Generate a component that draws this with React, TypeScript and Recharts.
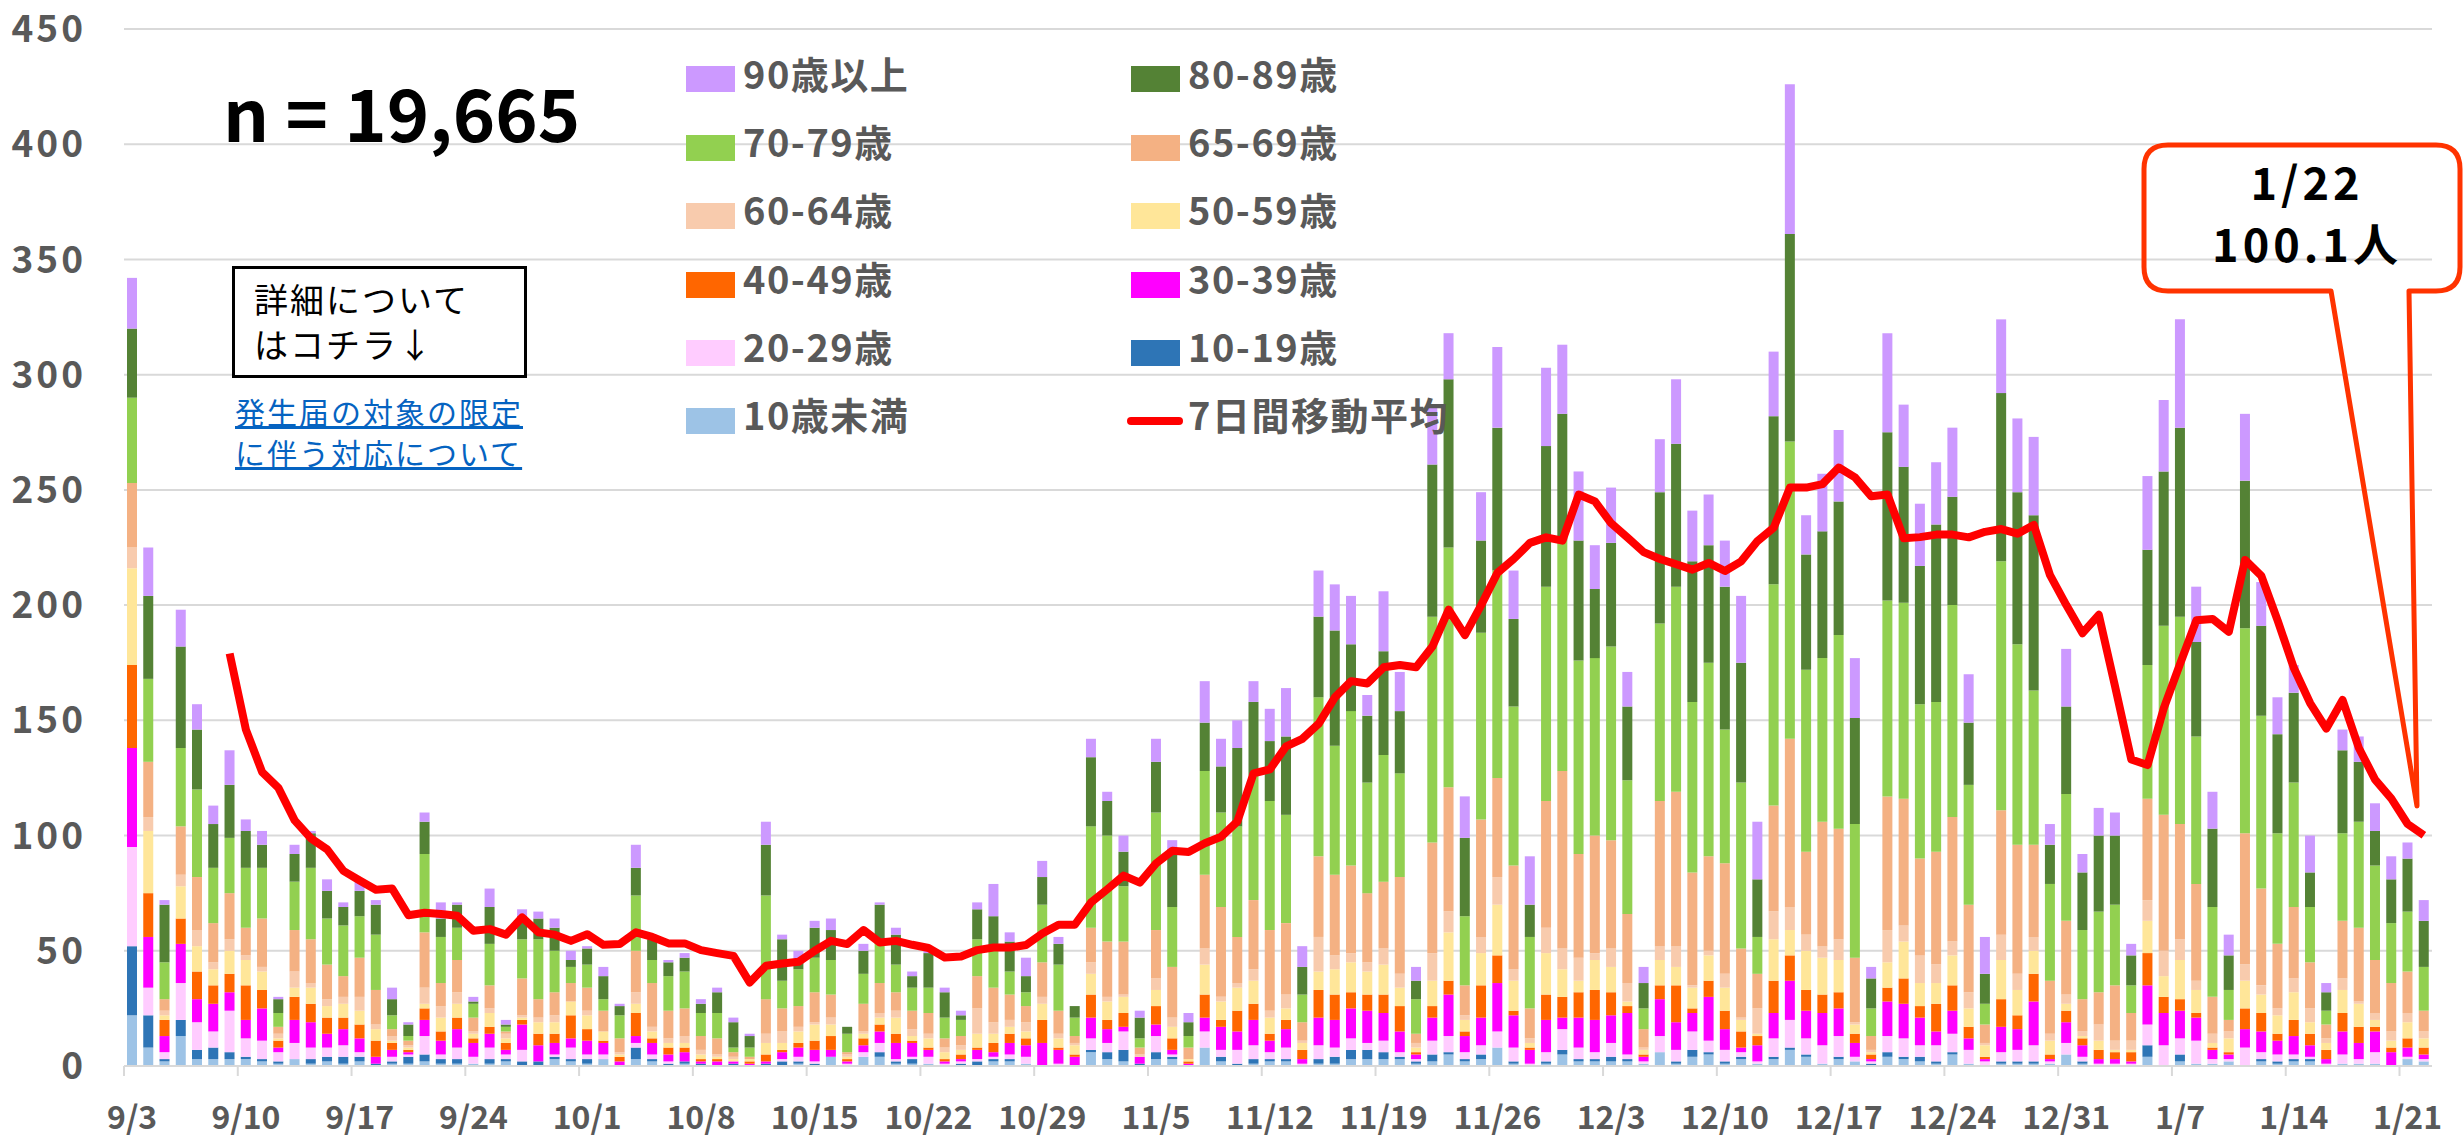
import React from 'react';
import { ComposedChart, Bar, Line, XAxis, YAxis, CartesianGrid } from 'recharts';

const FONT = "'Noto Sans CJK JP', 'Noto Sans', sans-serif";

// 9/3 .. 1/22
const dates = [
  '9/3', '9/4', '9/5', '9/6', '9/7', '9/8', '9/9', '9/10', '9/11', '9/12',
  '9/13', '9/14', '9/15', '9/16', '9/17', '9/18', '9/19', '9/20', '9/21', '9/22',
  '9/23', '9/24', '9/25', '9/26', '9/27', '9/28', '9/29', '9/30', '10/1', '10/2',
  '10/3', '10/4', '10/5', '10/6', '10/7', '10/8', '10/9', '10/10', '10/11', '10/12',
  '10/13', '10/14', '10/15', '10/16', '10/17', '10/18', '10/19', '10/20', '10/21', '10/22',
  '10/23', '10/24', '10/25', '10/26', '10/27', '10/28', '10/29', '10/30', '10/31', '11/1',
  '11/2', '11/3', '11/4', '11/5', '11/6', '11/7', '11/8', '11/9', '11/10', '11/11',
  '11/12', '11/13', '11/14', '11/15', '11/16', '11/17', '11/18', '11/19', '11/20', '11/21',
  '11/22', '11/23', '11/24', '11/25', '11/26', '11/27', '11/28', '11/29', '11/30', '12/1',
  '12/2', '12/3', '12/4', '12/5', '12/6', '12/7', '12/8', '12/9', '12/10', '12/11',
  '12/12', '12/13', '12/14', '12/15', '12/16', '12/17', '12/18', '12/19', '12/20', '12/21',
  '12/22', '12/23', '12/24', '12/25', '12/26', '12/27', '12/28', '12/29', '12/30', '12/31',
  '1/1', '1/2', '1/3', '1/4', '1/5', '1/6', '1/7', '1/8', '1/9', '1/10',
  '1/11', '1/12', '1/13', '1/14', '1/15', '1/16', '1/17', '1/18', '1/19', '1/20',
  '1/21', '1/22',
];

const under10 = [
  22, 8, 2, 13, 3, 3, 3, 3, 2, 1, 3, 1, 2, 1, 2, 0, 1, 1, 2, 1,
  1, 1, 1, 2, 0, 0, 3, 2, 1, 3, 0, 3, 2, 0, 1, 0, 0, 0, 0, 0,
  0, 1, 0, 4, 0, 4, 4, 1, 1, 1, 0, 0, 0, 2, 2, 1, 0, 0, 0, 6,
  3, 2, 0, 3, 3, 0, 8, 2, 0, 1, 2, 2, 0, 1, 1, 3, 3, 3, 3, 1,
  2, 5, 2, 3, 8, 1, 0, 1, 5, 2, 2, 2, 2, 1, 6, 1, 4, 5, 1, 3,
  1, 3, 7, 4, 1, 3, 2, 0, 4, 3, 2, 1, 5, 1, 0, 1, 1, 1, 1, 5,
  1, 0, 0, 0, 4, 0, 2, 1, 1, 2, 0, 2, 1, 2, 2, 0, 1, 1, 1, 0,
  3, 2,
];
const age10 = [
  30, 14, 1, 7, 4, 5, 3, 1, 1, 1, 0, 2, 2, 3, 2, 1, 1, 3, 3, 2,
  2, 0, 2, 1, 2, 2, 1, 1, 2, 0, 0, 5, 1, 1, 1, 1, 0, 1, 0, 1,
  2, 1, 1, 0, 0, 0, 2, 1, 2, 0, 0, 1, 2, 1, 1, 0, 0, 0, 0, 1,
  3, 5, 1, 3, 1, 0, 0, 2, 1, 2, 1, 1, 0, 2, 3, 4, 4, 3, 1, 1,
  3, 1, 1, 2, 0, 1, 0, 1, 2, 1, 1, 2, 1, 0, 0, 1, 3, 1, 1, 1,
  0, 1, 1, 1, 0, 1, 0, 1, 2, 1, 2, 1, 1, 0, 0, 1, 1, 1, 0, 0,
  1, 0, 0, 0, 5, 0, 3, 0, 0, 0, 0, 1, 1, 1, 1, 0, 0, 0, 0, 0,
  0, 0,
];
const age20 = [
  43, 12, 3, 16, 12, 7, 18, 8, 8, 4, 7, 5, 4, 5, 2, 0, 2, 1, 8, 2,
  5, 3, 5, 2, 5, 0, 1, 5, 2, 2, 0, 2, 2, 1, 0, 0, 0, 0, 0, 0,
  1, 2, 1, 0, 1, 2, 4, 1, 1, 3, 1, 1, 1, 1, 2, 3, 0, 1, 0, 5,
  4, 8, 0, 7, 1, 0, 7, 3, 6, 6, 3, 5, 1, 6, 4, 5, 3, 5, 2, 1,
  6, 7, 3, 4, 7, 6, 1, 4, 9, 5, 3, 6, 2, 1, 7, 5, 8, 5, 5, 2,
  1, 8, 12, 7, 8, 9, 2, 1, 7, 8, 5, 7, 8, 6, 2, 4, 5, 7, 1, 5,
  2, 1, 1, 1, 9, 9, 7, 10, 2, 1, 8, 3, 3, 2, 1, 1, 4, 2, 5, 0,
  1, 1,
];
const age30 = [
  43, 22, 7, 17, 10, 12, 8, 8, 14, 2, 10, 11, 6, 7, 6, 3, 3, 1, 7, 6,
  8, 6, 6, 2, 11, 7, 5, 4, 6, 5, 2, 3, 5, 3, 4, 1, 2, 1, 1, 1,
  3, 4, 5, 3, 1, 3, 5, 7, 6, 3, 1, 1, 4, 2, 5, 5, 10, 6, 4, 9,
  6, 2, 3, 5, 2, 1, 6, 10, 8, 11, 5, 8, 2, 12, 12, 13, 14, 12, 9, 2,
  10, 18, 7, 12, 21, 14, 6, 14, 5, 13, 14, 12, 18, 2, 16, 12, 8, 19, 9, 2,
  7, 11, 17, 12, 14, 12, 6, 1, 15, 15, 12, 6, 10, 5, 1, 11, 9, 19, 1, 9,
  5, 2, 2, 1, 17, 14, 12, 10, 4, 2, 8, 9, 6, 8, 5, 2, 10, 7, 9, 6,
  4, 2,
];
const age40 = [
  36, 19, 7, 11, 12, 8, 8, 15, 8, 3, 10, 8, 7, 5, 6, 7, 3, 1, 5, 4,
  5, 2, 3, 3, 2, 5, 4, 10, 5, 1, 2, 10, 2, 3, 2, 1, 1, 0, 1, 3,
  1, 2, 4, 6, 1, 3, 3, 4, 1, 1, 1, 2, 1, 4, 4, 3, 10, 1, 1, 10,
  4, 6, 0, 8, 5, 1, 10, 3, 9, 7, 3, 4, 4, 12, 11, 7, 7, 8, 11, 1,
  5, 6, 2, 14, 12, 2, 1, 11, 9, 11, 13, 10, 3, 1, 6, 16, 2, 7, 8, 7,
  4, 14, 11, 9, 8, 7, 4, 2, 6, 11, 5, 12, 11, 5, 1, 12, 6, 12, 2, 5,
  3, 4, 3, 4, 14, 7, 5, 2, 1, 1, 9, 8, 3, 7, 5, 4, 8, 7, 2, 2,
  4, 3,
];
const age50 = [
  42, 27, 2, 14, 11, 7, 10, 11, 8, 1, 4, 7, 5, 6, 6, 5, 1, 1, 2, 6,
  6, 2, 6, 2, 1, 5, 5, 6, 6, 4, 1, 4, 3, 2, 2, 2, 1, 1, 1, 5,
  3, 5, 7, 5, 1, 2, 3, 7, 2, 4, 3, 2, 6, 4, 3, 3, 7, 4, 4, 9,
  8, 7, 0, 7, 5, 1, 13, 8, 10, 10, 7, 5, 3, 8, 11, 13, 10, 13, 8, 2,
  11, 21, 5, 14, 22, 13, 2, 18, 12, 5, 13, 11, 2, 2, 11, 8, 9, 11, 10, 5,
  1, 18, 11, 17, 16, 14, 4, 1, 11, 16, 10, 9, 13, 8, 5, 17, 11, 10, 6, 3,
  1, 4, 1, 1, 14, 9, 17, 10, 2, 6, 12, 8, 8, 12, 5, 3, 10, 10, 3, 3,
  7, 4,
];
const age60 = [
  9, 6, 2, 5, 7, 3, 5, 2, 2, 2, 7, 2, 3, 3, 6, 2, 2, 1, 7, 5,
  5, 1, 2, 2, 1, 2, 3, 0, 2, 0, 1, 5, 2, 2, 3, 2, 1, 1, 0, 4,
  5, 2, 1, 3, 1, 1, 2, 3, 3, 2, 2, 2, 11, 5, 3, 4, 3, 2, 1, 5,
  2, 1, 1, 5, 4, 0, 7, 2, 2, 5, 3, 6, 1, 15, 6, 4, 4, 7, 6, 2,
  12, 9, 2, 7, 12, 5, 2, 11, 9, 10, 3, 8, 8, 1, 6, 9, 1, 2, 6, 1,
  11, 12, 10, 7, 5, 9, 1, 1, 14, 7, 12, 8, 6, 7, 1, 11, 7, 6, 3, 4,
  2, 7, 4, 4, 9, 11, 9, 4, 4, 3, 7, 4, 3, 6, 6, 2, 5, 1, 3, 4,
  4, 3,
];
const age65 = [
  28, 24, 5, 21, 23, 17, 20, 12, 21, 3, 18, 19, 15, 9, 17, 15, 3, 2, 24, 10,
  14, 6, 10, 1, 16, 8, 10, 8, 10, 9, 6, 18, 19, 12, 12, 6, 7, 2, 1, 15,
  10, 9, 13, 10, 1, 12, 13, 8, 8, 9, 4, 4, 14, 15, 11, 7, 15, 10, 3, 15,
  24, 23, 3, 21, 22, 5, 32, 39, 20, 30, 35, 31, 8, 35, 35, 38, 30, 29, 42, 4,
  48, 54, 13, 51, 43, 45, 13, 55, 77, 45, 51, 47, 30, 8, 63, 67, 49, 41, 48, 30,
  15, 46, 73, 36, 54, 48, 28, 6, 58, 55, 42, 49, 54, 38, 8, 54, 56, 40, 23, 32,
  14, 14, 24, 12, 44, 59, 50, 42, 16, 5, 57, 42, 28, 31, 20, 6, 25, 32, 23, 21,
  18, 9,
];
const age70 = [
  37, 36, 16, 34, 38, 24, 24, 26, 22, 6, 21, 31, 20, 22, 18, 24, 6, 2, 34, 20,
  14, 6, 18, 2, 17, 26, 18, 7, 10, 5, 10, 24, 10, 15, 16, 10, 11, 2, 4, 45,
  12, 16, 15, 15, 8, 13, 17, 12, 10, 11, 9, 7, 16, 16, 10, 6, 25, 20, 8, 44,
  46, 24, 4, 51, 26, 5, 45, 41, 48, 54, 56, 47, 12, 69, 56, 67, 48, 55, 45, 15,
  98, 104, 30, 81, 90, 69, 31, 93, 100, 84, 77, 84, 58, 9, 77, 89, 74, 84, 58, 72,
  16, 96, 129, 79, 71, 84, 58, 12, 85, 85, 67, 65, 92, 52, 9, 108, 87, 67, 42, 55,
  30, 35, 35, 12, 58, 82, 90, 64, 39, 13, 89, 75, 48, 54, 24, 6, 38, 46, 41, 26,
  26, 19,
];
const age80 = [
  30, 36, 25, 44, 26, 19, 23, 16, 10, 6, 12, 15, 12, 8, 11, 13, 7, 5, 14, 8,
  10, 1, 16, 1, 10, 9, 10, 3, 7, 10, 4, 12, 9, 6, 6, 4, 9, 11, 5, 22,
  18, 4, 13, 13, 3, 10, 17, 13, 5, 15, 11, 2, 13, 15, 13, 7, 12, 9, 5, 30,
  15, 15, 9, 22, 25, 6, 21, 20, 34, 32, 26, 34, 12, 35, 50, 29, 29, 45, 27, 8,
  66, 73, 34, 40, 62, 38, 14, 61, 55, 52, 30, 45, 32, 11, 57, 62, 61, 51, 62, 52,
  25, 73, 90, 50, 55, 58, 46, 13, 73, 59, 60, 77, 47, 27, 13, 73, 66, 76, 17, 38,
  25, 33, 30, 13, 50, 67, 82, 41, 34, 15, 64, 39, 43, 39, 15, 8, 36, 26, 15, 19,
  23, 20,
];
const age90 = [
  22, 21, 2, 16, 11, 8, 15, 5, 6, 1, 4, 1, 5, 2, 4, 2, 5, 1, 4, 7,
  1, 2, 8, 2, 3, 3, 4, 4, 1, 4, 1, 10, 2, 1, 2, 2, 2, 2, 1, 10,
  2, 4, 3, 5, 0, 3, 1, 3, 2, 2, 2, 2, 3, 14, 4, 8, 7, 3, 0, 8,
  4, 7, 3, 10, 4, 4, 18, 12, 12, 9, 14, 21, 9, 20, 20, 21, 9, 26, 17, 6,
  26, 20, 18, 21, 35, 21, 21, 34, 30, 30, 19, 24, 15, 7, 23, 28, 22, 22, 20, 29,
  25, 28, 65, 17, 25, 31, 26, 5, 43, 27, 27, 27, 30, 21, 16, 32, 32, 34, 9, 25,
  8, 12, 10, 5, 32, 31, 47, 24, 16, 9, 29, 19, 16, 12, 16, 4, 9, 11, 12, 10,
  7, 9,
];

// 7日間移動平均 (first six days have no value)
const movingAvg = [
  null, null, null, null, null, null, 179, 146, 127.5, 120.7,
  106.6, 98.8, 94, 84.7, 80.5, 76.5, 77, 65.4, 66.5, 66,
  65.2, 58.7, 59.4, 57, 64.5, 58, 57, 54.3, 57.2, 52.6,
  52.9, 58, 56, 53.2, 53.2, 50.3, 49, 47.8, 36.2, 43.5,
  44.5, 45.2, 50, 54.3, 52.9, 59, 53.6, 54.3, 52.6, 51.2,
  47.1, 47.5, 50.3, 51.4, 51.4, 52.5, 57.5, 61.3, 61.3, 71,
  76.7, 82.6, 79.6, 87.9, 93.4, 92.9, 96.7, 99.5, 106.1, 127,
  128.7, 138.7, 142, 148.5, 160, 167, 166, 173, 174, 173,
  182, 198, 187, 200, 214, 220, 227, 229.4, 228, 248,
  245, 235.5, 229.3, 223, 220, 217.7, 215.4, 218.3, 214.8, 219,
  227.8, 233.6, 251, 251, 252.5, 259.7, 255.4, 247.2, 248, 229,
  229.5, 230.6, 230.6, 229.4, 231.8, 233, 231, 234.8, 213, 200,
  187.8, 195.8, 164.7, 133, 130.6, 155.3, 174.5, 193.4, 194, 188.4,
  219.6, 212.7, 193.4, 172.7, 157.5, 146.4, 158.8, 138, 124.3, 116,
  105, 100.1,
];

const yTicks = [0, 50, 100, 150, 200, 250, 300, 350, 400, 450];

// stacked bottom -> top
const series = [
  { key: 'u10', name: '10歳未満', color: '#9DC3E6', values: under10 },
  { key: 'a10', name: '10-19歳', color: '#2E75B6', values: age10 },
  { key: 'a20', name: '20-29歳', color: '#FFCCFF', values: age20 },
  { key: 'a30', name: '30-39歳', color: '#FF00FF', values: age30 },
  { key: 'a40', name: '40-49歳', color: '#FF6600', values: age40 },
  { key: 'a50', name: '50-59歳', color: '#FFE699', values: age50 },
  { key: 'a60', name: '60-64歳', color: '#F8CBAD', values: age60 },
  { key: 'a65', name: '65-69歳', color: '#F4B183', values: age65 },
  { key: 'a70', name: '70-79歳', color: '#92D050', values: age70 },
  { key: 'a80', name: '80-89歳', color: '#548235', values: age80 },
  { key: 'a90', name: '90歳以上', color: '#CC99FF', values: age90 },
];

const LINE_COLOR = '#FF0000';
const AVG_NAME = '7日間移動平均';

const legendRows = [
  ['a90', 'a80'],
  ['a70', 'a65'],
  ['a60', 'a50'],
  ['a40', 'a30'],
  ['a20', 'a10'],
  ['u10', 'avg'],
];

const data = dates.map((date, i) => {
  const row: Record<string, any> = { date, avg: movingAvg[i] };
  series.forEach((s) => {
    row[s.key] = s.values[i];
  });
  return row;
});

const W = 2463;
const H = 1138;
const PLOT_LEFT = 124;
const PLOT_RIGHT = 2432;
const HALF_BAND = (PLOT_RIGHT - PLOT_LEFT) / dates.length / 2;

const DateTick = (props: any) => {
  const { x, y, payload } = props;
  return (
    <g>
      <line x1={x - HALF_BAND} y1={y} x2={x - HALF_BAND} y2={y + 10} stroke="#D9D9D9" strokeWidth={2} />
      <text x={x} y={y + 63} textAnchor="middle" fill="#595959" fontSize={32} fontWeight={700} fontFamily={FONT}>
        {payload.value}
      </text>
    </g>
  );
};

const Legend = () => {
  const cols = [686, 1131];
  const keyY = [79, 148, 216, 285, 353, 421];
  const textY = [73, 141, 209, 278, 346, 414];
  return (
    <>
      {legendRows.map((row, r) =>
        row.map((key, c) => {
          const s = series.find((d) => d.key === key);
          const left = cols[c];
          return (
            <React.Fragment key={key}>
              {s ? (
                <div style={{ position: 'absolute', left, top: keyY[r] - 13, width: 49, height: 26, background: s.color }} />
              ) : (
                <div style={{ position: 'absolute', left: left - 4, top: keyY[r] - 4, width: 56, height: 8, borderRadius: 4, background: LINE_COLOR }} />
              )}
              <div
                style={{
                  position: 'absolute',
                  left: left + 57,
                  top: textY[r] - 19,
                  fontSize: 38,
                  lineHeight: '38px',
                  fontWeight: 700,
                  color: '#595959',
                  letterSpacing: 1.5,
                  whiteSpace: 'nowrap',
                }}
              >
                {s ? s.name : AVG_NAME}
              </div>
            </React.Fragment>
          );
        })
      )}
    </>
  );
};

const Callout = () => {
  const l = 2144, t = 145, r = 2460, b = 291, rad = 24;
  const tailL = 2331, tailR = 2409, tipX = 2417, tipY = 806;
  const d = `M ${l + rad} ${t} H ${r - rad} Q ${r} ${t} ${r} ${t + rad} V ${b - rad} Q ${r} ${b} ${r - rad} ${b} H ${tailR} L ${tipX} ${tipY} L ${tailL} ${b} H ${l + rad} Q ${l} ${b} ${l} ${b - rad} V ${t + rad} Q ${l} ${t} ${l + rad} ${t} Z`;
  return (
    <svg width={W} height={H} style={{ position: 'absolute', left: 0, top: 0, pointerEvents: 'none' }}>
      <path d={d} fill="none" stroke="#FF3300" strokeWidth={5} strokeLinejoin="round" />
      <text x={2307} y={200} textAnchor="middle" fontSize={45} fontWeight={700} fontFamily={FONT} fill="#000" letterSpacing={4}>
        1/22
      </text>
      <text x={2307} y={262} textAnchor="middle" fontSize={45} fontWeight={700} fontFamily={FONT} fill="#000" letterSpacing={4}>
        100.1人
      </text>
    </svg>
  );
};

const App: React.FC = () => {
  return (
    <div style={{ position: 'absolute', left: 0, top: 0, width: W, height: H, background: '#fff', fontFamily: FONT }}>
      <ComposedChart width={W} height={H} data={data} margin={{ top: 29, right: W - PLOT_RIGHT, bottom: 0, left: 0 }}>
        <CartesianGrid vertical={false} stroke="#D9D9D9" strokeWidth={2} />
        <XAxis
          dataKey="date"
          height={72}
          interval={6}
          tickLine={false}
          tickSize={0}
          tickMargin={0}
          axisLine={{ stroke: '#D9D9D9', strokeWidth: 2 }}
          tick={<DateTick />}
        />
        <YAxis
          width={PLOT_LEFT}
          domain={[0, 450]}
          ticks={yTicks}
          axisLine={false}
          tickLine={false}
          tickSize={0}
          tickMargin={38}
          tick={{ fill: '#595959', fontSize: 37, fontWeight: 700, fontFamily: FONT, letterSpacing: 3 }}
        />
        {series.map((s) => (
          <Bar key={s.key} dataKey={s.key} name={s.name} stackId="age" fill={s.color} barSize={10} isAnimationActive={false} />
        ))}
        <Line
          type="linear"
          dataKey="avg"
          name={AVG_NAME}
          stroke={LINE_COLOR}
          strokeWidth={8}
          strokeLinejoin="round"
          dot={false}
          activeDot={false}
          isAnimationActive={false}
        />
      </ComposedChart>

      <div style={{ position: 'absolute', left: 223, top: 75, fontSize: 72, lineHeight: '72px', fontWeight: 700, color: '#000', whiteSpace: 'nowrap' }}>
        n = 19,665
      </div>

      <div style={{ position: 'absolute', left: 232, top: 266, width: 289, height: 106, border: '3px solid #000', background: '#fff' }} />
      <div style={{ position: 'absolute', left: 254, top: 276, fontSize: 34, lineHeight: '45px', color: '#000', letterSpacing: 2, whiteSpace: 'nowrap' }}>
        詳細について
        <br />
        はコチラ↓
      </div>

      <div style={{ position: 'absolute', left: 235, top: 391, fontSize: 30, lineHeight: '41px', color: '#0563C1', textDecoration: 'underline', letterSpacing: 2, whiteSpace: 'nowrap' }}>
        発生届の対象の限定
        <br />
        に伴う対応について
      </div>

      <Legend />
      <Callout />
    </div>
  );
};

export default App;
